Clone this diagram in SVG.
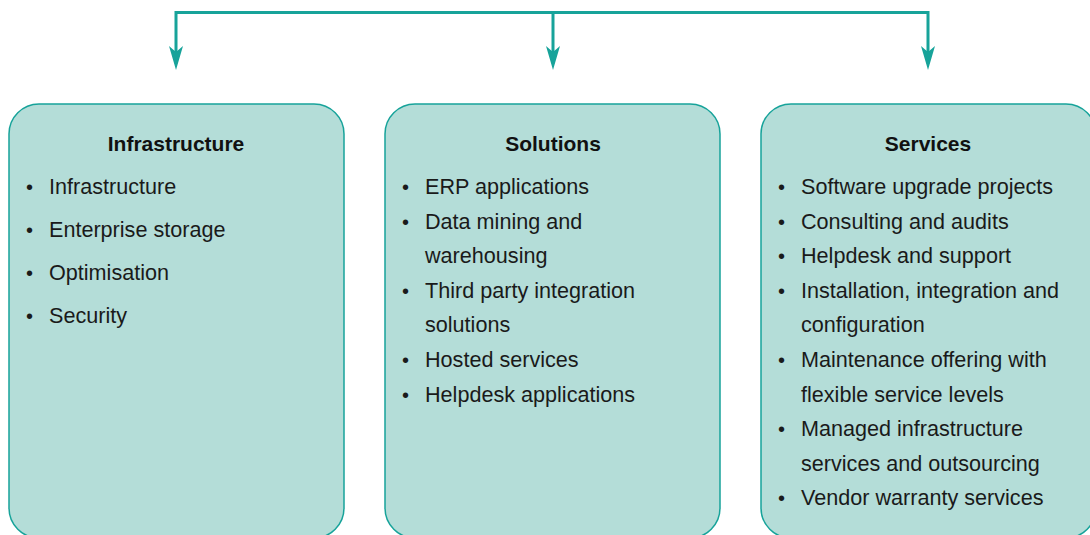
<svg xmlns="http://www.w3.org/2000/svg" width="1090" height="535" viewBox="0 0 1090 535">
<style>
.box{fill:#b4ddd8;stroke:#17a39a;stroke-width:1.5}
.conn{fill:none;stroke:#17a39a;stroke-width:3}
.head{fill:#17a39a}
.title{font-family:"Liberation Sans",Arial,sans-serif;font-weight:bold;font-size:21px;fill:#111;text-anchor:middle}
.item{font-family:"Liberation Sans",Arial,sans-serif;font-size:21.6px;fill:#1a1a1a}
.bul{font-family:"Liberation Sans",Arial,sans-serif;font-size:20px;fill:#1a1a1a}
</style>
<g id="connectors">
<path class="conn" d="M176,62 V12.5 H928 V62"/>
<path class="conn" d="M553,12.5 V62"/>
<path class="head" d="M169,46 L176,70 L183,46 L176,52 Z"/>
<path class="head" d="M546,46 L553,70 L560,46 L553,52 Z"/>
<path class="head" d="M921,46 L928,70 L935,46 L928,52 Z"/>
</g>
<g id="infrastructure">
<rect class="box" x="9" y="104" width="335" height="434" rx="30"/>
<text class="title" x="176" y="151">Infrastructure</text>
<g class="bul"><text x="26" y="194">•</text><text x="26" y="237">•</text><text x="26" y="280">•</text><text x="26" y="323">•</text></g>
<g class="item"><text x="49" y="194">Infrastructure</text><text x="49" y="237">Enterprise storage</text><text x="49" y="280">Optimisation</text><text x="49" y="323">Security</text></g>
</g>
<g id="solutions">
<rect class="box" x="385" y="104" width="335" height="434" rx="30"/>
<text class="title" x="553" y="151">Solutions</text>
<g class="bul"><text x="402" y="194">•</text><text x="402" y="228.6">•</text><text x="402" y="297.8">•</text><text x="402" y="367">•</text><text x="402" y="401.6">•</text></g>
<g class="item"><text x="425" y="194">ERP applications</text><text x="425" y="228.6">Data mining and</text><text x="425" y="263.2">warehousing</text><text x="425" y="297.8">Third party integration</text><text x="425" y="332.4">solutions</text><text x="425" y="367">Hosted services</text><text x="425" y="401.6">Helpdesk applications</text></g>
</g>
<g id="services">
<rect class="box" x="761" y="104" width="335" height="434" rx="30"/>
<text class="title" x="928" y="151">Services</text>
<g class="bul"><text x="778" y="194">•</text><text x="778" y="228.6">•</text><text x="778" y="263.2">•</text><text x="778" y="297.8">•</text><text x="778" y="367">•</text><text x="778" y="436.2">•</text><text x="778" y="505.4">•</text></g>
<g class="item"><text x="801" y="194">Software upgrade projects</text><text x="801" y="228.6">Consulting and audits</text><text x="801" y="263.2">Helpdesk and support</text><text x="801" y="297.8">Installation, integration and</text><text x="801" y="332.4">configuration</text><text x="801" y="367">Maintenance offering with</text><text x="801" y="401.6">flexible service levels</text><text x="801" y="436.2">Managed infrastructure</text><text x="801" y="470.8">services and outsourcing</text><text x="801" y="505.4">Vendor warranty services</text></g>
</g>
</svg>
